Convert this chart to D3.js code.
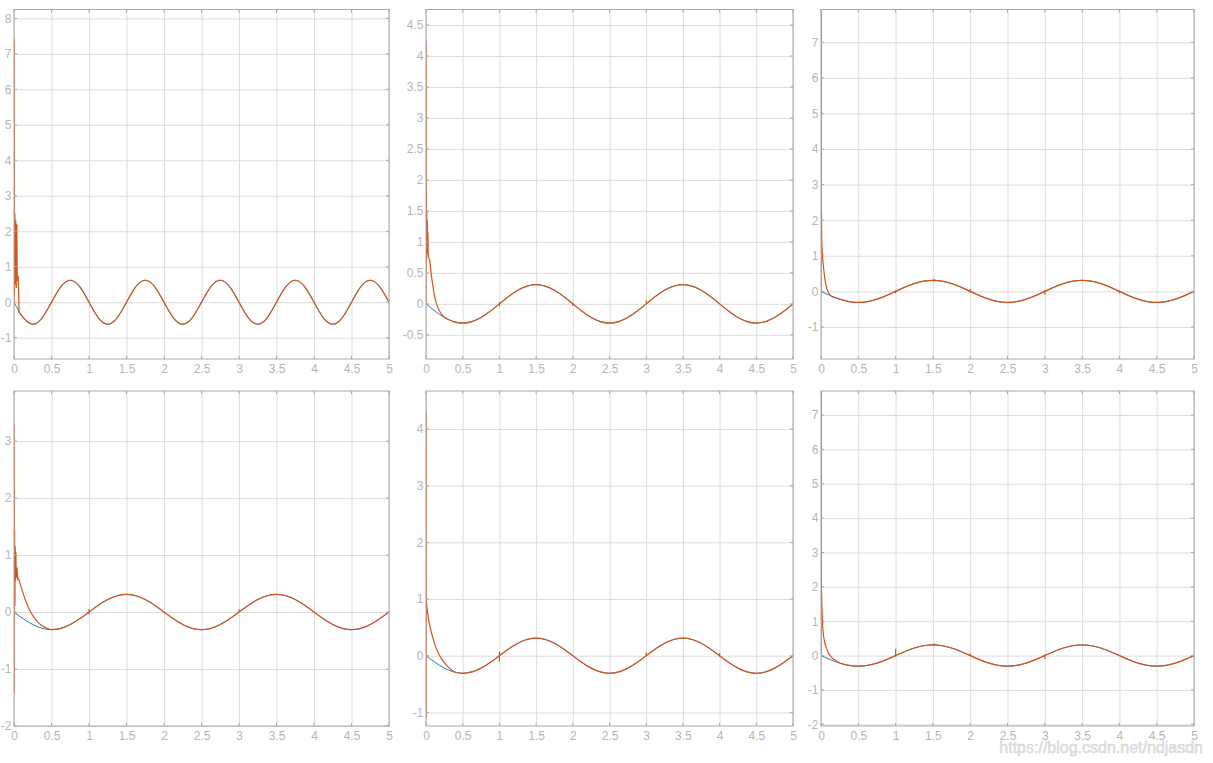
<!DOCTYPE html>
<html>
<head>
<meta charset="utf-8">
<script src="https://cdn.jsdelivr.net/npm/d3@7"></script>
<style>
  body { margin: 0; background: #fff; }
  svg { display: block; }
  text { font-family: "Liberation Sans", Arial, sans-serif; }
</style>
</head>
<body>
<svg id="chart" width="1213" height="763"></svg>
<script>
"use strict";

// sample times of the reference signal
const tRef = [0, 0.125, 0.25, 0.375, 0.5, 0.625, 0.75, 0.875, 1, 1.125, 1.25, 1.375, 1.5, 1.625, 1.75, 1.875,
  2, 2.125, 2.25, 2.375, 2.5, 2.625, 2.75, 2.875, 3, 3.125, 3.25, 3.375, 3.5, 3.625, 3.75, 3.875,
  4, 4.125, 4.25, 4.375, 4.5, 4.625, 4.75, 4.875, 5];

// reference in the first panel (period 1)
const refFast = [0, -0.44, -0.62, -0.44, 0, 0.44, 0.62, 0.44,
  0, -0.44, -0.62, -0.44, 0, 0.44, 0.62, 0.44,
  0, -0.44, -0.62, -0.44, 0, 0.44, 0.62, 0.44,
  0, -0.44, -0.62, -0.44, 0, 0.44, 0.62, 0.44,
  0, -0.44, -0.62, -0.44, 0, 0.44, 0.62, 0.44, 0];

// reference in the other panels (period 2)
const refSlow = [0, -0.119, -0.219, -0.286, -0.31, -0.286, -0.219, -0.119,
  0, 0.119, 0.219, 0.286, 0.31, 0.286, 0.219, 0.119,
  0, -0.119, -0.219, -0.286, -0.31, -0.286, -0.219, -0.119,
  0, 0.119, 0.219, 0.286, 0.31, 0.286, 0.219, 0.119,
  0, -0.119, -0.219, -0.286, -0.31, -0.286, -0.219, -0.119, 0];

// output: start-up chatter [t, y]
const spikes1 = [[0, 0], [0.002, 7.42], [0.006, 0.2], [0.012, 2.5], [0.018, 0.5], [0.024, 2.3], [0.03, 0.4],
  [0.038, 2.2], [0.044, 0.6], [0.05, 0.75], [0.056, 0.7], [0.068, -0.3]];
const spikes2 = [[0, 0], [0.001, 4.25], [0.003, 0.7], [0.005, 1.9], [0.008, 0.7], [0.011, 1.5], [0.014, 0.8],
  [0.018, 1.35], [0.022, 0.9], [0.026, 1.15], [0.03, 0.8], [0.035, 0.75]];
const spikes3 = [[0, 0], [0.001, 7.92], [0.002, 2.7], [0.004, 2.05], [0.006, 2.2]];
const spikes4 = [[0, 0], [0.001, 3.29], [0.002, -1.42], [0.003, 2.73], [0.005, 0.1], [0.008, 1.45], [0.012, 0.1],
  [0.016, 1.15], [0.02, 0.55], [0.025, 1.05], [0.03, 0.6], [0.04, 0.78], [0.05, 0.58], [0.058, 0.6]];
const spikes5 = [[0, 0], [0.001, 4.28], [0.002, -1.09], [0.003, 1.6], [0.005, 0.75], [0.008, 0.95], [0.011, 0.87]];
const spikes6 = [[0, 0], [0.001, 7.68], [0.002, 1.6], [0.004, 2.7], [0.006, 2.0]];

// output: decay onto the reference [t, y]
const settle1 = [[0.068, -0.3], [0.1, -0.37]];
const settle2 = [[0.035, 0.75], [0.05, 0.71], [0.072, 0.47], [0.095, 0.28], [0.118, 0.12], [0.14, 0.015],
  [0.163, -0.065], [0.209, -0.16]];
const settle3 = [[0.006, 2.2], [0.01, 1.45], [0.02, 1.0], [0.035, 0.65], [0.05, 0.38], [0.075, 0.1],
  [0.1, -0.03], [0.15, -0.15], [0.2, -0.18]];
const settle4 = [[0.058, 0.6], [0.1, 0.42], [0.15, 0.22], [0.2, 0.06], [0.26, -0.08], [0.32, -0.18],
  [0.4, -0.26], [0.45, -0.29]];
const settle5 = [[0.011, 0.87], [0.04, 0.6], [0.08, 0.38], [0.13, 0.16], [0.2, -0.03], [0.28, -0.17],
  [0.36, -0.26], [0.43, -0.3]];
const settle6 = [[0.006, 2.0], [0.013, 1.34], [0.035, 0.56], [0.08, 0.17], [0.15, -0.07], [0.2, -0.15]];

// small switching glitches [t, low, high]
const glitch1 = [];
const glitch2 = [[1, -0.04, 0.03], [2, -0.03, 0.02], [3, 0, 0.06]];
const glitch3 = [[1, -0.05, 0.03], [1.52, 0.28, 0.35], [2, -0.04, 0.07], [3, -0.09, 0.04], [4, -0.05, 0.02], [5, -0.07, 0.02]];
const glitch4 = [[1, -0.04, 0.05], [3, 0, 0.05]];
const glitch5 = [[1, -0.1, 0.07], [3, -0.01, 0.06], [4, -0.02, 0.05]];
const glitch6 = [[1, -0.02, 0.2], [1.52, 0.3, 0.36], [2, -0.01, 0.05], [3, -0.1, 0.03], [5, -0.05, 0.03]];

// axis limits and ticks
const xLim = [0, 5];
const xTicks = [0, 0.5, 1, 1.5, 2, 2.5, 3, 3.5, 4, 4.5, 5];
const yLim1 = [-1.6, 8.25], yTicks1 = [-1, 0, 1, 2, 3, 4, 5, 6, 7, 8];
const yLim2 = [-0.89, 4.75], yTicks2 = [-0.5, 0, 0.5, 1, 1.5, 2, 2.5, 3, 3.5, 4, 4.5];
const yLim3 = [-1.9, 7.92], yTicks3 = [-1, 0, 1, 2, 3, 4, 5, 6, 7];
const yLim4 = [-2, 3.88], yTicks4 = [-2, -1, 0, 1, 2, 3];
const yLim5 = [-1.24, 4.67], yTicks5 = [-1, 0, 1, 2, 3, 4];
const yLim6 = [-2.05, 7.7], yTicks6 = [-2, -1, 0, 1, 2, 3, 4, 5, 6, 7];

const panels = [
  { ref: refFast, spikes: spikes1, settle: settle1, glitch: glitch1, yLim: yLim1, yTicks: yTicks1 },
  { ref: refSlow, spikes: spikes2, settle: settle2, glitch: glitch2, yLim: yLim2, yTicks: yTicks2 },
  { ref: refSlow, spikes: spikes3, settle: settle3, glitch: glitch3, yLim: yLim3, yTicks: yTicks3 },
  { ref: refSlow, spikes: spikes4, settle: settle4, glitch: glitch4, yLim: yLim4, yTicks: yTicks4 },
  { ref: refSlow, spikes: spikes5, settle: settle5, glitch: glitch5, yLim: yLim5, yTicks: yTicks5 },
  { ref: refSlow, spikes: spikes6, settle: settle6, glitch: glitch6, yLim: yLim6, yTicks: yTicks6 }
];

// pixel boxes of the six axes
const cols = [[14, 389], [426, 793], [821, 1194]];
const rows = [[9.5, 359], [391, 726]];

const blue = "#0072bd", orange = "#d95319";
const gridColor = "#dcdcdc", boxColor = "#a8a8a8", labelColor = "#b5b5b5";

const svg = d3.select("#chart");

panels.forEach(function(p, i) {
  const [x0, x1] = cols[i % 3];
  const [y0, y1] = rows[Math.floor(i / 3)];
  const x = d3.scaleLinear().domain(xLim).range([x0, x1]);
  const y = d3.scaleLinear().domain(p.yLim).range([y1, y0]);
  const g = svg.append("g");

  // grid
  g.append("g")
    .attr("transform", "translate(0," + y1 + ")")
    .call(d3.axisBottom(x).tickValues(xTicks).tickSize(-(y1 - y0)).tickFormat(""))
    .call(a => a.select(".domain").remove())
    .call(a => a.selectAll("line").attr("stroke", gridColor));
  g.append("g")
    .attr("transform", "translate(" + x0 + ",0)")
    .call(d3.axisLeft(y).tickValues(p.yTicks).tickSize(-(x1 - x0)).tickFormat(""))
    .call(a => a.select(".domain").remove())
    .call(a => a.selectAll("line").attr("stroke", gridColor));

  // tick labels
  g.append("g")
    .attr("transform", "translate(0," + y1 + ")")
    .call(d3.axisBottom(x).tickValues(xTicks).tickSize(0).tickPadding(5).tickFormat(d => String(d)))
    .call(a => a.select(".domain").remove())
    .call(a => a.selectAll("text").attr("fill", labelColor).style("font-size", "12px"));
  g.append("g")
    .attr("transform", "translate(" + x0 + ",0)")
    .call(d3.axisLeft(y).tickValues(p.yTicks).tickSize(0).tickPadding(2.5).tickFormat(d => String(d)))
    .call(a => a.select(".domain").remove())
    .call(a => a.selectAll("text").attr("fill", labelColor).style("font-size", "12px"));

  const clipId = "clip" + i;
  svg.append("clipPath").attr("id", clipId)
    .append("rect").attr("x", x0).attr("y", y0).attr("width", x1 - x0).attr("height", y1 - y0);
  const plot = g.append("g").attr("clip-path", "url(#" + clipId + ")");

  const smooth = d3.line().x(d => x(d[0])).y(d => y(d[1])).curve(d3.curveNatural);
  const easy = d3.line().x(d => x(d[0])).y(d => y(d[1])).curve(d3.curveMonotoneX);
  const straight = d3.line().x(d => x(d[0])).y(d => y(d[1]));

  const refPts = tRef.map((t, k) => [t, p.ref[k]]);
  const lastSettle = p.settle[p.settle.length - 1][0];
  const track = refPts.filter(d => d[0] > lastSettle);
  const settlePts = p.settle.concat([track[0]]);

  plot.append("path").attr("d", smooth(refPts))
    .attr("fill", "none").attr("stroke", blue).attr("stroke-width", 0.9);
  plot.append("path").attr("d", easy(settlePts))
    .attr("fill", "none").attr("stroke", orange).attr("stroke-width", 1.2);
  plot.append("path").attr("d", smooth(track))
    .attr("fill", "none").attr("stroke", orange).attr("stroke-width", 1.2);
  plot.append("path").attr("d", straight(p.spikes))
    .attr("fill", "none").attr("stroke", orange).attr("stroke-width", 1.2);
  plot.selectAll(".glitch").data(p.glitch).enter().append("line")
    .attr("x1", d => x(d[0])).attr("x2", d => x(d[0]))
    .attr("y1", d => y(d[1])).attr("y2", d => y(d[2]))
    .attr("stroke", orange).attr("stroke-width", 1.2);

  // small inward ticks on all four sides
  const tk = 3;
  xTicks.forEach(function(t) {
    g.append("line").attr("x1", x(t)).attr("x2", x(t)).attr("y1", y1).attr("y2", y1 - tk).attr("stroke", boxColor);
    g.append("line").attr("x1", x(t)).attr("x2", x(t)).attr("y1", y0).attr("y2", y0 + tk).attr("stroke", boxColor);
  });
  p.yTicks.forEach(function(t) {
    g.append("line").attr("x1", x0).attr("x2", x0 + tk).attr("y1", y(t)).attr("y2", y(t)).attr("stroke", boxColor);
    g.append("line").attr("x1", x1).attr("x2", x1 - tk).attr("y1", y(t)).attr("y2", y(t)).attr("stroke", boxColor);
  });

  g.append("rect")
    .attr("x", x0).attr("y", y0).attr("width", x1 - x0).attr("height", y1 - y0)
    .attr("fill", "none").attr("stroke", boxColor).attr("stroke-width", 1);
});

// watermark
svg.append("text")
  .attr("x", 1203).attr("y", 753)
  .attr("text-anchor", "end")
  .style("font-size", "16px")
  .attr("fill", "#e4e4e4")
  .attr("stroke", "#cdcdcd").attr("stroke-width", 0.4)
  .text("https://blog.csdn.net/ndjasdn");
</script>
</body>
</html>
